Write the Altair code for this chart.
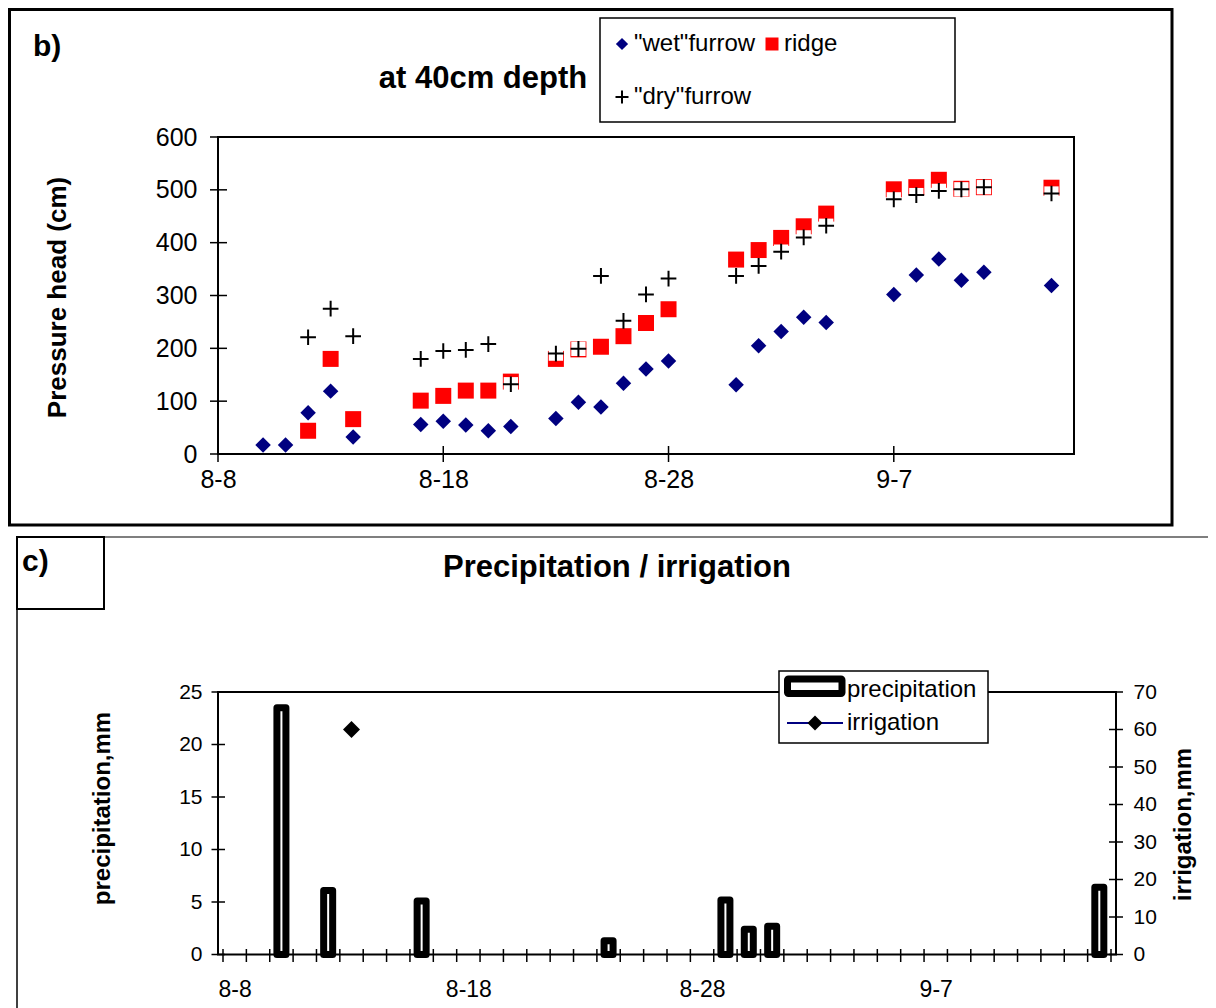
import altair as alt
import pandas as pd

FONT = "Liberation Sans"

# ---------------- panel b) : pressure head at 40 cm depth ----------------
# day offsets from 8-8
days_b = [2, 3, 4, 5, 6, 9, 10, 11, 12, 13, 15, 16, 17, 18, 19, 20, 23, 24, 25, 26, 27, 30, 31, 32, 33, 34, 37]
wet_furrow = [17, 17, 78, 119, 32, 56, 62, 55, 44, 52, 67, 98, 89, 134, 161, 176, 131, 205, 232, 259, 249,
              302, 339, 369, 329, 344, 319]
ridge = [None, None, 44, 180, 66, 101, 110, 120, 120, 137, 180, 198, 203, 223, 248, 274, 368, 386, 409, 431,
         455, 501, 505, 519, 502, 505, 504]
dry_furrow = [None, None, 221, 275, 223, 180, 195, 197, 208, 132, 190, 199, 337, 252, 302, 332, 337, 356, 383,
              410, 432, 482, 490, 498, 501, 505, 493]

date_tick_days = [0, 10, 20, 30]
date_tick_labels = ["8-8", "8-18", "8-28", "9-7"]
pressure_ticks = [0, 100, 200, 300, 400, 500, 600]

# ---------------- panel c) : precipitation / irrigation ----------------
precip_days = [2, 4, 8, 16, 21, 22, 23, 37]
precip_mm = [23.5, 6.1, 5.1, 1.3, 5.2, 2.4, 2.7, 6.4]
irrig_days = [5]
irrig_mm = [60]
n_categories = 38
precip_ticks = [0, 5, 10, 15, 20, 25]
irrig_ticks = [0, 10, 20, 30, 40, 50, 60, 70]

NAVY = "#000080"
RED = "#FF0000"


def label_expr(days, labels, use_floor=False):
    v = "floor(datum.value)" if use_floor else "round(datum.value)"
    expr = "''"
    for d, l in reversed(list(zip(days, labels))):
        expr = f"{v} == {d} ? '{l}' : {expr}"
    return expr


one = pd.DataFrame({"k": [0]})


def txt(s, x, y, size, bold=False, align="left", baseline="alphabetic", angle=0, color="black"):
    kw = dict(text=s, font=FONT, fontSize=size, fontWeight="bold" if bold else "normal",
              align=align, baseline=baseline, color=color)
    if angle:
        kw["angle"] = angle
    return alt.Chart(one).mark_text(**kw).encode(x=alt.value(x), y=alt.value(y))


def box(x1, y1, x2, y2, sw=1.5, fill="white", fill_opacity=1.0, stroke="black", corner=0):
    kw = dict(fill=fill, fillOpacity=fill_opacity, stroke=stroke, strokeWidth=sw)
    if corner:
        kw["cornerRadius"] = corner
    return alt.Chart(one).mark_rect(**kw).encode(
        x=alt.value(x1), x2=alt.value(x2), y=alt.value(y1), y2=alt.value(y2))


def line(x1, y1, x2, y2, sw=1.0, color="black"):
    return alt.Chart(one).mark_rule(color=color, strokeWidth=sw).encode(
        x=alt.value(x1), x2=alt.value(x2), y=alt.value(y1), y2=alt.value(y2))


def sym(shape, x, y, size, color, filled=True, sw=2):
    kw = dict(shape=shape, size=size, opacity=1)
    if filled:
        kw.update(filled=True, fill=color, strokeWidth=0)
    else:
        kw.update(filled=False, stroke=color, strokeWidth=sw)
    return alt.Chart(one).mark_point(**kw).encode(x=alt.value(x), y=alt.value(y))


PLUS = "M-1,0H1M0,-1V1"

# ---------------- top group ----------------
tx = alt.Scale(domain=[0, 38], range=[0, 856])
ty = alt.Scale(domain=[0, 600], range=[317, 0])
tx_axis = alt.Axis(orient="bottom", offset=-500.5, values=date_tick_days,
                   labelExpr=label_expr(date_tick_days, date_tick_labels),
                   labelFontSize=25, labelPadding=25, labelBaseline="middle",
                   labelFlush=False, labelOverlap=False, title=None)
ty_axis = alt.Axis(orient="left", values=pressure_ticks, labelFontSize=25, labelPadding=21,
                   labelFlush=False, labelOverlap=False,
                   title="Pressure head (cm)", titleFontSize=26, titleFontWeight="bold",
                   titleAngle=270, titleX=-161, titleY=160, titleAlign="center", titleBaseline="middle")

df_b = pd.DataFrame({"day": days_b, "wet": wet_furrow, "ridge": ridge, "dry": dry_furrow})
df_wet = df_b[["day", "wet"]].rename(columns={"wet": "value"})
df_ridge = df_b[["day", "ridge"]].rename(columns={"ridge": "value"}).dropna()
df_dry = df_b[["day", "dry"]].rename(columns={"dry": "value"}).dropna()

X = alt.X("day:Q", scale=tx, axis=tx_axis)
Y = alt.Y("value:Q", scale=ty, axis=ty_axis)

wet_layer = alt.Chart(df_wet).mark_point(shape="diamond", filled=True, fill=NAVY, strokeWidth=0,
                                         size=240, opacity=1).encode(x=X, y=Y)
ridge_layer = alt.Chart(df_ridge).mark_point(shape="square", filled=True, fill=RED, strokeWidth=0,
                                             size=256, opacity=1).encode(x=X, y=Y)
dry_bg = alt.Chart(df_dry).mark_point(shape="square", filled=True, fill="white", strokeWidth=0,
                                      size=205, opacity=1).encode(x=X, y=Y)
dry_layer = alt.Chart(df_dry).mark_point(shape=PLUS, filled=False, stroke="black", strokeWidth=2,
                                         size=246, opacity=1).encode(x=X, y=Y)

ty_ticks = alt.Chart(pd.DataFrame({"value": pressure_ticks})).mark_rule(color="black", strokeWidth=1.5).encode(
    y=Y, x=alt.value(-8), x2=alt.value(9))
tx_ticks = alt.Chart(pd.DataFrame({"day": date_tick_days})).mark_rule(color="black", strokeWidth=1.5).encode(
    x=X, y=alt.value(309), y2=alt.value(325))

top = alt.layer(
    box(-208.5, -127.5, 954, 388, sw=3, fill_opacity=0),
    box(0, 0, 856, 317, sw=2, fill_opacity=0),
    ty_ticks, tx_ticks,
    wet_layer, ridge_layer, dry_bg, dry_layer,
    # legend
    box(382, -119, 737, -15, sw=1.5),
    sym("diamond", 404, -93, 150, NAVY),
    txt('"wet"furrow', 416, -93, 24, baseline="middle"),
    sym("square", 554, -93, 169, RED),
    txt("ridge", 566, -93, 24, baseline="middle"),
    sym(PLUS, 404, -40, 169, "black", filled=False, sw=2),
    txt('"dry"furrow', 416, -40, 24, baseline="middle"),
    # titles
    txt("b)", -185, -81, 30, bold=True),
    txt("at 40cm depth", 265, -49, 31, bold=True, align="center"),
)

# ---------------- bottom group ----------------
bx = alt.Scale(domain=[0, n_categories], range=[0, 898])
byl = alt.Scale(domain=[0, 25], range=[817.5, 555])
byr = alt.Scale(domain=[0, 70], range=[817.5, 555])

label_pos = [d + 0.5 for d in date_tick_days]
bx_axis = alt.Axis(orient="bottom", values=label_pos,
                   labelExpr=label_expr(date_tick_days, date_tick_labels, use_floor=True),
                   labelFontSize=23, labelPadding=35, labelBaseline="middle",
                   labelFlush=False, labelOverlap=False, title=None)
byl_axis = alt.Axis(orient="left", values=precip_ticks, labelFontSize=21, labelPadding=16,
                    labelFlush=False, labelOverlap=False,
                    title="precipitation,mm", titleFontSize=24, titleFontWeight="bold",
                    titleAngle=270, titleX=-116, titleY=671, titleAlign="center", titleBaseline="middle")
byr_axis = alt.Axis(orient="right", values=irrig_ticks, labelFontSize=21, labelPadding=17,
                    labelFlush=False, labelOverlap=False,
                    title="irrigation,mm", titleFontSize=24, titleFontWeight="bold",
                    titleAngle=270, titleX=67, titleY=687, titleAlign="center", titleBaseline="middle")

BX = alt.X("xc:Q", scale=bx, axis=bx_axis)
BYL = alt.Y("mm:Q", scale=byl, axis=byl_axis)
BYR = alt.Y("irr:Q", scale=byr, axis=byr_axis)

df_p = pd.DataFrame({"day": precip_days, "mm": precip_mm})
df_i = pd.DataFrame({"day": irrig_days, "irr": irrig_mm})

bars = alt.Chart(df_p).transform_calculate(xc="datum.day + 0.5").mark_bar(
    size=9, fill="white", stroke="black", strokeWidth=7, strokeJoin="round", opacity=1
).encode(x=BX, y=BYL)

bx_ticks = alt.Chart(pd.DataFrame({"xc": list(range(n_categories + 1))})).mark_rule(
    color="black", strokeWidth=1.5).encode(x=BX, y=alt.value(812), y2=alt.value(825))
byl_ticks = alt.Chart(pd.DataFrame({"mm": precip_ticks})).mark_rule(color="black", strokeWidth=1.5).encode(
    y=BYL, x=alt.value(-6.5), x2=alt.value(7))

irr_pts = alt.Chart(df_i).transform_calculate(xc="datum.day + 0.5").mark_point(
    shape="diamond", filled=True, fill="black", strokeWidth=0, size=289, opacity=1).encode(x=BX, y=BYR)
byr_ticks = alt.Chart(pd.DataFrame({"irr": irrig_ticks})).mark_rule(color="black", strokeWidth=1.5).encode(
    y=BYR, x=alt.value(891), x2=alt.value(905))

bottom_left = alt.layer(
    line(-201, 400, 1000, 400, sw=1.2),
    line(-201, 400, -201, 880, sw=1.5),
    box(-201, 400, -114, 472, sw=2, fill_opacity=0),
    txt("c)", -196, 434, 30, bold=True),
    txt("Precipitation / irrigation", 399, 440, 31, bold=True, align="center"),
    box(0, 555, 898, 817.5, sw=2, fill_opacity=0),
    bars, bx_ticks, byl_ticks,
)
bottom_right = alt.layer(
    irr_pts, byr_ticks,
    # legend
    box(561, 534, 770, 606, sw=1.5),
    box(569.5, 542, 624, 556.5, sw=7, corner=1),
    txt("precipitation", 629, 553, 24, baseline="middle"),
    line(569, 586, 625, 586, sw=2, color=NAVY),
    sym("diamond", 597, 586, 225, "black"),
    txt("irrigation", 629, 586, 24, baseline="middle"),
)
bottom = alt.layer(bottom_left, bottom_right).resolve_scale(y="independent")

chart = alt.layer(top, bottom).resolve_scale(x="independent", y="independent").properties(
    width=898, height=817.5,
    padding={"left": 210, "top": 129, "right": 92, "bottom": 54},
    autosize=alt.AutoSizeParams(type="none"),
    background="white",
).configure_view(stroke=None).configure_axis(
    labelFont=FONT, titleFont=FONT, labelColor="black", titleColor="black",
    grid=False, domain=False, ticks=False, tickSize=0,
)

chart.save("out.html", embed_options={"renderer": "svg", "actions": False})
